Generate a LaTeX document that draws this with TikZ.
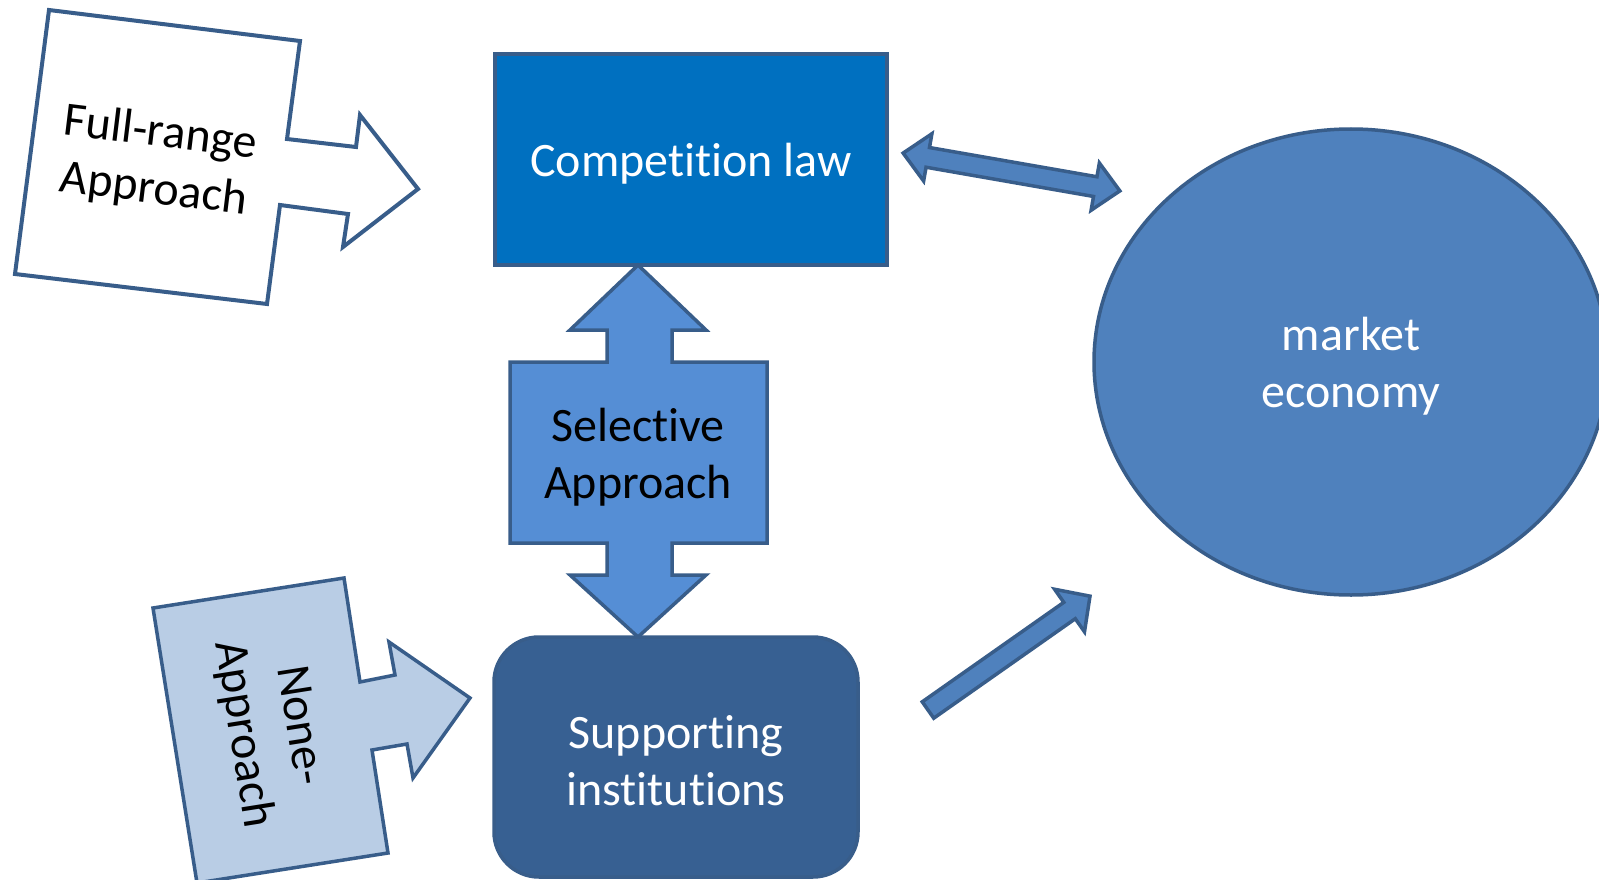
\documentclass[tikz,border=0pt]{standalone}
\usepackage{fontspec}
\setmainfont{Carlito}[RawFeature={-liga}]
\usetikzlibrary{shapes.geometric}
\definecolor{edgeblue}{HTML}{385D8A}
\definecolor{compfill}{HTML}{0070C0}
\definecolor{selfill}{HTML}{558ED5}
\definecolor{supfill}{HTML}{376092}
\definecolor{nonefill}{HTML}{B9CDE5}
\definecolor{mktfill}{HTML}{4F81BD}
\tikzset{
  bigtext/.style={font=\fontsize{48}{57}\selectfont, align=center},
  blockshape/.style={draw=edgeblue, line width=3.5pt, line join=miter},
  arrowshape/.style={draw=edgeblue, fill=mktfill, line width=3.5pt, line join=miter},
}
\begin{document}
\begin{tikzpicture}[x=1pt, y=-1pt]
\clip (0,0) rectangle (1599,880);
\fill[white] (0,0) rectangle (1599,880);

% Full-range arrow
\draw[blockshape, line width=4pt, fill=white]
  (49,10) -- (300,41) -- (287,139) -- (356,147) -- (360,115) -- (418,189)
  -- (343,247) -- (348,214) -- (280,205) -- (267,304) -- (15,274) -- cycle;
\node[bigtext, rotate=-7, text=black] (full) at (157,162) {Full-range\\Approach};

% None arrow
\draw[blockshape, fill=nonefill]
  (153,608) -- (344,578) -- (360,682) -- (395,675) -- (389,642) -- (470,698)
  -- (413,778) -- (407,744) -- (372,750) -- (388,853) -- (197,883) -- cycle;
\node[bigtext, rotate=-81, text=black] (none) at (270,730) {None-\\Approach};

% Competition law
\node[blockshape, fill=compfill, minimum width=392pt, minimum height=211pt,
      inner sep=0pt] (comp) at (691,159.5) {};
\node[bigtext, text=white] (comptext) at ([yshift=-4pt]comp.center) {Competition law};

% Selective approach double arrow
\draw[blockshape, fill=selfill]
  (638,265) -- (706,330) -- (672,330) -- (672,362) -- (767,362) -- (767,543)
  -- (672,543) -- (672,575) -- (706,575) -- (638,637) -- (570,575) -- (607,575)
  -- (607,543) -- (510,543) -- (510,362) -- (607,362) -- (607,330) -- (570,330) -- cycle;
\node[bigtext, text=black] (sel) at (638,457) {Selective\\Approach};

% Supporting institutions
\node[blockshape, fill=supfill, rounded corners=45pt, minimum width=364pt,
      minimum height=240pt, inner sep=0pt] (sup) at (676,757) {};
\node[bigtext, text=white] (suptext) at ([yshift=-4pt]sup.center) {Supporting\\institutions};

% market economy
\node[ellipse, draw=edgeblue, line width=3.5pt, fill=mktfill, minimum width=514pt,
      minimum height=466pt, inner sep=0pt] (mkt) at (1351,362) {};
\node[bigtext, text=white] (mkttext) at ([yshift=-4pt]mkt.center) {market\\economy};

% double arrow competition law <-> market economy
\begin{scope}[shift={(1011.5,172)}, rotate=-9.9]
\draw[arrowshape]
  (-110,0) -- (-85,-24) -- (-85,-10) -- (85,-10) -- (85,-24) -- (110,0)
  -- (85,24) -- (85,10) -- (-85,10) -- (-85,24) -- cycle;
\end{scope}

% arrow supporting institutions -> market economy
\begin{scope}[shift={(928,710)}, rotate=35.1]
\draw[arrowshape]
  (0,-10) -- (173,-10) -- (173,-26) -- (198,0) -- (173,26) -- (173,10) -- (0,10) -- cycle;
\end{scope}
\end{tikzpicture}
\end{document}
